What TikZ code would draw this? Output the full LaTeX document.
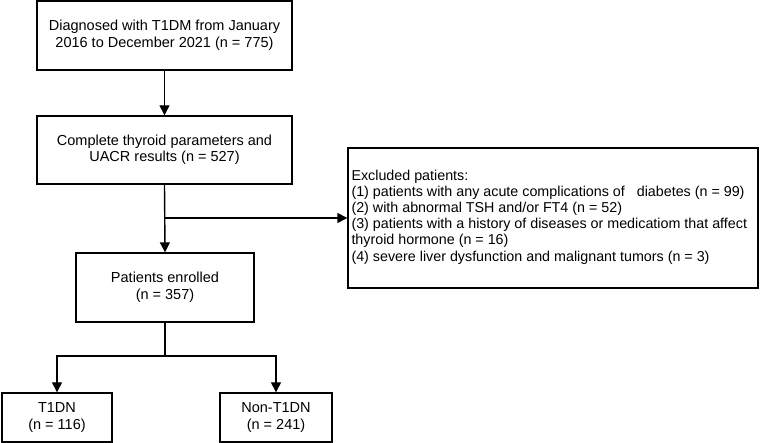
\documentclass[tikz,border=0pt]{standalone}
\usepackage{fontspec}
\setmainfont{Liberation Sans}
\usetikzlibrary{arrows.meta}
\begin{document}
\begin{tikzpicture}[x=1pt,y=-1pt,
  box/.style={draw, line width=1.4pt, align=center, inner sep=0pt,
    font=\fontsize{14.5}{16.5}\selectfont},
  txt/.style={inner sep=0pt, align=left, font=\fontsize{14.3}{16.2}\selectfont},
  conn/.style={line width=1.4pt},
  arr/.style={line width=1.4pt, -{Triangle[length=10pt,width=10pt]}}]
\useasboundingbox (0,0) rectangle (764,443);
\node[box, minimum width=255pt, minimum height=69pt] (b1) at (164.5,35.5)
  {Diagnosed with T1DM from January\\2016 to December 2021 (n = 775)};
\node[box, minimum width=255pt, minimum height=68pt] (b2) at (164.5,150)
  {Complete thyroid parameters and\\UACR results (n = 527)};
\node[box, minimum width=410pt, minimum height=140pt] (ex) at (553,218) {};
\node[txt, anchor=west] (extxt) at ([xshift=4pt,yshift=1pt]ex.west)
  {Excluded patients:\\
   (1) patients with any acute complications of\ \ \ diabetes (n = 99)\\
   (2) with abnormal TSH and/or FT4 (n = 52)\\
   (3) patients with a history of diseases or medicatiom that affect\\
   thyroid hormone (n = 16)\\
   (4) severe liver dysfunction and malignant tumors (n = 3)};
\node[box, minimum width=178pt, minimum height=69pt] (b3) at (165,287.5)
  {Patients enrolled\\(n = 357)};
\node[box, minimum width=110pt, minimum height=49pt] (t1) at (57,417.5)
  {T1DN\\(n = 116)};
\node[box, minimum width=112pt, minimum height=49pt] (t2) at (276,417.5)
  {Non-T1DN\\(n = 241)};
\coordinate (br) at (165,218);
\coordinate (sp) at (165,356);
\draw[arr] (b1.south) -- (b2.north);
\draw[arr] (b2.south) -- (b3.north);
\draw[arr] (br) -- (ex.west |- br);
\draw[conn] (b3.south) -- (sp);
\draw[arr] (sp) -| (t1.north);
\draw[arr] (sp) -| (t2.north);
\end{tikzpicture}
\end{document}
